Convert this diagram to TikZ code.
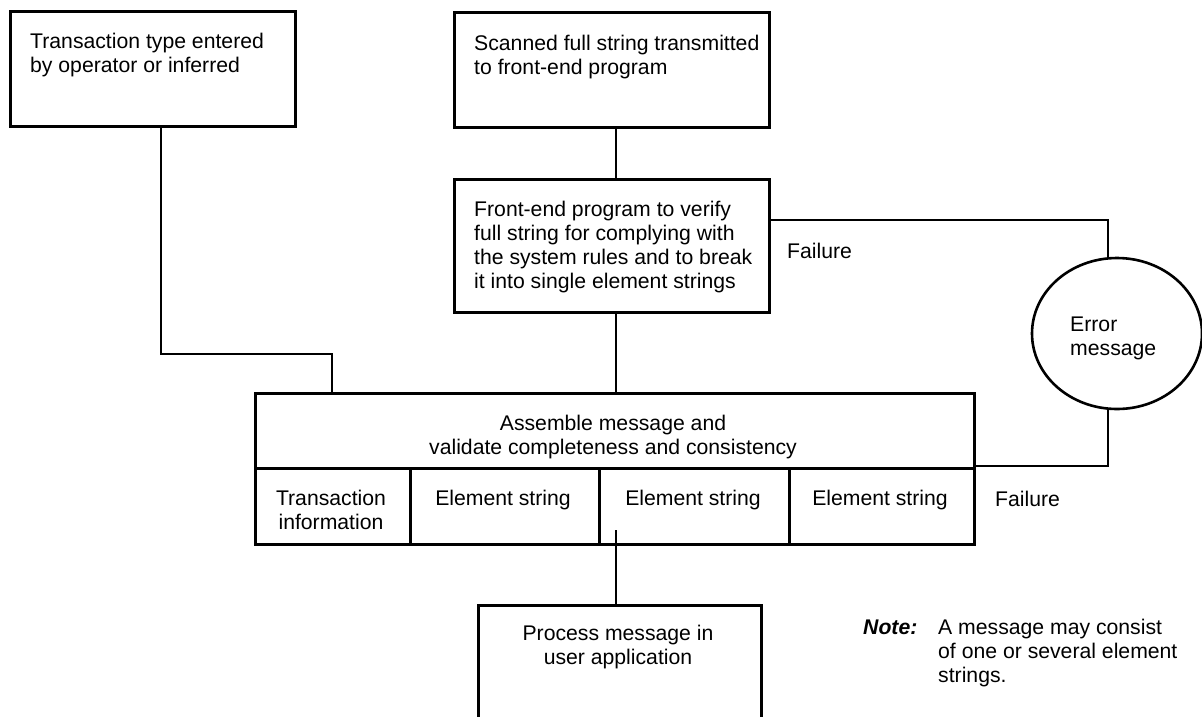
\documentclass[tikz,border=0pt]{standalone}
\usepackage{fontspec}
\setmainfont{Liberation Sans}
\usetikzlibrary{calc,shapes.geometric}
\begin{document}
\begin{tikzpicture}[x=1pt,y=-1pt,
  every node/.style={font=\fontsize{21.2}{24}\selectfont},
  frame/.style={draw, line width=2.6pt, inner sep=0pt, anchor=north west},
  conn/.style={draw, line width=1.8pt},
  lbl/.style={inner sep=0pt, anchor=base west, align=left},
  clbl/.style={inner sep=0pt, anchor=base, align=center}]
\useasboundingbox (0,0) rectangle (1202,716);

% source boxes (text labels are placed by the baseline of their last line)
\node[frame, minimum width=285pt, minimum height=115pt] (b1) at (9,10) {};
\node[lbl] (t1) at (30,72) {Transaction type entered\\by operator or inferred};

\node[frame, minimum width=315pt, minimum height=115pt] (b2) at (453,11) {};
\node[lbl] (t2) at (474,74) {Scanned full string transmitted\\to front-end program};

\node[frame, minimum width=315pt, minimum height=133pt] (b3) at (453,178) {};
\node[lbl] (t3) at (474,288) {Front-end program to verify\\full string for complying with\\the system rules and to break\\it into single element strings};

% assembly block with its row of cells
\node[frame, minimum width=719pt, minimum height=75pt] (asm) at (254,392) {};
\node[clbl] (ta) at (613,454) {Assemble message and\\validate completeness and consistency};
\node[frame, minimum width=155pt, minimum height=76pt] (c1) at (254,467) {};
\node[frame, minimum width=189pt, minimum height=76pt] (c2) at (409,467) {};
\node[frame, minimum width=190pt, minimum height=76pt] (c3) at (598,467) {};
\node[frame, minimum width=185pt, minimum height=76pt] (c4) at (788,467) {};
\node[clbl] (tc1) at (331,529) {Transaction\\information};
\node[clbl] (tc2) at (503,505) {Element string};
\node[clbl] (tc3) at (693,505) {Element string};
\node[clbl] (tc4) at (880,505) {Element string};

% error branch
\node[draw, line width=2.6pt, ellipse, minimum width=170pt, minimum height=151pt, inner sep=0pt] (err) at (1117,333.5) {};
\node[lbl] (te) at (1070,355) {Error\\message};
\node[lbl] (f1) at (787,258) {Failure};
\node[lbl] (f2) at (995,506) {Failure};

% consumer
\node[frame, minimum width=283pt, minimum height=114pt] (pm) at (477,604) {};
\node[clbl] (tp) at (618,664) {Process message in\\user application};

% note
\node[lbl] (nh) at (863,634) {\bfseries\itshape Note:};
\node[lbl] (nt) at (938,682) {A message may consist\\of one or several element\\strings.};

% connectors
\coordinate (j1) at (161,354);
\coordinate (j2) at (332,354);
\coordinate (j3) at (1108,220);
\coordinate (j4) at (1108,466);
\coordinate (xm) at (616,0);
\coordinate (s3) at (616,530);

\draw[conn] (b1.south -| j1) -- (j1) -- (j2) -- (asm.north -| j2);
\draw[conn] (b2.south -| xm) -- (b3.north -| xm);
\draw[conn] (b3.south -| xm) -- (asm.north -| xm);
\draw[conn] (b3.east |- j3) -- (j3) -- ($(err.north -| j3)+(0,1)$);
\draw[conn] ($(err.south -| j4)+(0,-1)$) -- (j4) -- (asm.east |- j4);
\draw[conn] (s3) -- (pm.north -| s3);
\end{tikzpicture}
\end{document}
